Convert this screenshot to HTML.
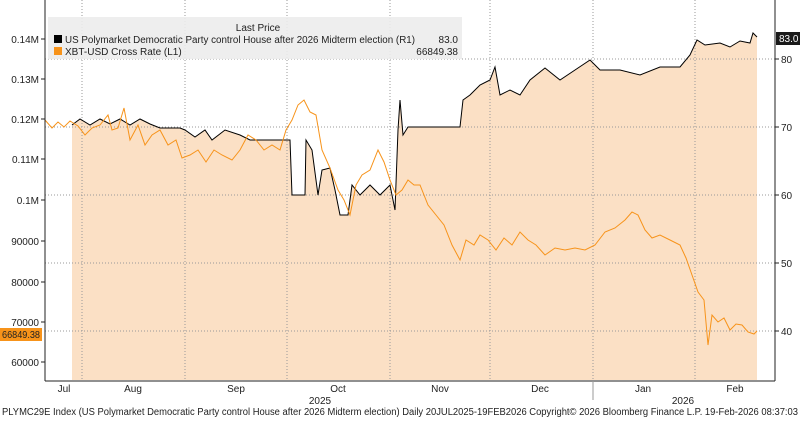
<!DOCTYPE html>
<html><head><meta charset="utf-8"><style>
body{margin:0;background:#fff;width:800px;height:418px;overflow:hidden;font-family:"Liberation Sans",sans-serif}
svg text{font-family:"Liberation Sans",sans-serif;font-size:10px;fill:#222}
</style></head><body>
<svg width="800" height="418" viewBox="0 0 800 418" xmlns="http://www.w3.org/2000/svg">
<rect width="800" height="418" fill="#fff"/>
<polygon fill="#fbe0c5" points="72,380 72,125 80,119 90,125 100,119 110,124 120,119 130,125 140,119 150,124 160,128 170,128 180,128 185,130 195,137 205,130 212,140 225,130 240,135 250,140 270,140 290,140 292,195 305,195 306,140 312,150 318,195 322,170 330,168 335,190 340,215 348,215 352,185 360,195 370,185 380,195 390,185 395,210 398,130 400,100 403,135 408,127 420,127 440,127 460,127 463,100 470,95 480,85 490,80 495,67 500,95 510,90 520,95 530,80 545,68 560,80 575,70 590,60 600,70 620,70 640,75 660,67 680,67 690,55 697,40 705,45 720,43 730,47 740,41 750,43 753,33 757,37 757,380"/>
<g stroke="#999" stroke-dasharray="1,2" stroke-width="1">
<line x1="82" y1="0" x2="82" y2="380"/><line x1="185" y1="0" x2="185" y2="380"/>
<line x1="287" y1="0" x2="287" y2="380"/><line x1="390" y1="0" x2="390" y2="380"/>
<line x1="490" y1="0" x2="490" y2="380"/><line x1="593" y1="0" x2="593" y2="380"/>
<line x1="695" y1="0" x2="695" y2="380"/>
<line x1="45" y1="59" x2="775" y2="59"/><line x1="45" y1="127" x2="775" y2="127"/>
<line x1="45" y1="195" x2="775" y2="195"/><line x1="45" y1="263" x2="775" y2="263"/>
<line x1="45" y1="331" x2="775" y2="331"/>
</g>
<rect x="48" y="17" width="414" height="42" fill="#ececec" opacity="0.9"/>
<text x="258" y="31" text-anchor="middle" font-size="10">Last Price</text>
<rect x="54" y="35" width="8" height="8" fill="#000"/>
<text x="65" y="43" textLength="350" lengthAdjust="spacingAndGlyphs">US Polymarket Democratic Party control House after 2026 Midterm election  (R1)</text>
<text x="458" y="43" text-anchor="end">83.0</text>
<rect x="54" y="47" width="8" height="8" fill="#f7931a"/>
<text x="65" y="55">XBT-USD Cross Rate  (L1)</text>
<text x="458" y="55" text-anchor="end">66849.38</text>
<polyline fill="none" stroke="#000" stroke-width="1" points="72,125 80,119 90,125 100,119 110,124 120,119 130,125 140,119 150,124 160,128 170,128 180,128 185,130 195,137 205,130 212,140 225,130 240,135 250,140 270,140 290,140 292,195 305,195 306,140 312,150 318,195 322,170 330,168 335,190 340,215 348,215 352,185 360,195 370,185 380,195 390,185 395,210 398,130 400,100 403,135 408,127 420,127 440,127 460,127 463,100 470,95 480,85 490,80 495,67 500,95 510,90 520,95 530,80 545,68 560,80 575,70 590,60 600,70 620,70 640,75 660,67 680,67 690,55 697,40 705,45 720,43 730,47 740,41 750,43 753,33 757,37"/>
<polyline fill="none" stroke="#f7931a" stroke-width="1" points="45,120 52,128 58,122 64,127 70,121 78,126 85,135 92,128 100,125 108,115 112,130 118,128 124,108 130,140 138,125 145,145 152,135 160,130 168,145 176,140 182,158 190,155 198,150 206,162 214,150 222,155 232,160 240,150 248,135 256,140 264,150 272,145 280,150 286,130 292,120 298,105 304,100 310,112 316,115 322,150 330,168 338,190 344,200 350,215 356,185 362,175 370,170 378,150 384,162 390,180 396,195 402,190 408,180 414,185 420,185 428,205 436,215 444,225 452,245 460,260 466,240 474,245 480,235 488,240 496,250 504,238 512,245 520,232 528,240 536,245 545,255 555,248 565,250 575,248 585,250 595,245 605,232 615,228 625,220 632,212 638,215 645,230 652,238 660,235 670,240 680,245 686,258 692,275 698,292 704,300 708,345 712,315 718,322 724,318 730,330 736,324 742,325 748,332 754,334 757,331"/>
<line x1="45" y1="0" x2="45" y2="381" stroke="#222"/>
<line x1="775" y1="0" x2="775" y2="381" stroke="#222"/>
<line x1="45" y1="381" x2="775" y2="381" stroke="#222"/>
<g font-size="10" text-anchor="end">
<text x="39" y="43">0.14M</text><text x="39" y="83">0.13M</text><text x="39" y="123">0.12M</text>
<text x="39" y="163">0.11M</text><text x="39" y="204">0.1M</text><text x="39" y="245">90000</text>
<text x="39" y="286">80000</text><text x="39" y="326">70000</text><text x="39" y="366">60000</text>
</g>
<g stroke="#222">
<line x1="41" y1="39" x2="45" y2="39"/><line x1="41" y1="79" x2="45" y2="79"/><line x1="41" y1="119" x2="45" y2="119"/>
<line x1="41" y1="159" x2="45" y2="159"/><line x1="41" y1="200" x2="45" y2="200"/><line x1="41" y1="241" x2="45" y2="241"/>
<line x1="41" y1="282" x2="45" y2="282"/><line x1="41" y1="322" x2="45" y2="322"/><line x1="41" y1="362" x2="45" y2="362"/>
<line x1="775" y1="59" x2="779" y2="59"/><line x1="775" y1="127" x2="779" y2="127"/><line x1="775" y1="195" x2="779" y2="195"/>
<line x1="775" y1="263" x2="779" y2="263"/><line x1="775" y1="331" x2="779" y2="331"/>
</g>
<g font-size="10">
<text x="781" y="63">80</text><text x="781" y="131">70</text><text x="781" y="199">60</text>
<text x="781" y="267">50</text><text x="781" y="335">40</text>
</g>
<rect x="776" y="32" width="24" height="13" fill="#1a1a1a"/>
<text x="779" y="42" style="fill:#fff">83.0</text>
<rect x="0" y="328" width="42" height="13" fill="#f7931a"/>
<text x="2" y="338" font-size="10" textLength="38" lengthAdjust="spacingAndGlyphs">66849.38</text>
<g font-size="10" text-anchor="middle">
<text x="64" y="392">Jul</text><text x="133" y="392">Aug</text><text x="236" y="392">Sep</text>
<text x="338" y="392">Oct</text><text x="440" y="392">Nov</text><text x="540" y="392">Dec</text>
<text x="643" y="392">Jan</text><text x="735" y="392">Feb</text>
<text x="320" y="404">2025</text><text x="683" y="404">2026</text>
</g>
<line x1="593" y1="381" x2="593" y2="400" stroke="#999"/>
<text x="2" y="415" font-size="9" textLength="796" lengthAdjust="spacingAndGlyphs">PLYMC29E Index (US Polymarket Democratic Party control House after 2026 Midterm election) Daily 20JUL2025-19FEB2026  Copyright© 2026 Bloomberg Finance L.P.   19-Feb-2026 08:37:03</text>
</svg>
</body></html>
